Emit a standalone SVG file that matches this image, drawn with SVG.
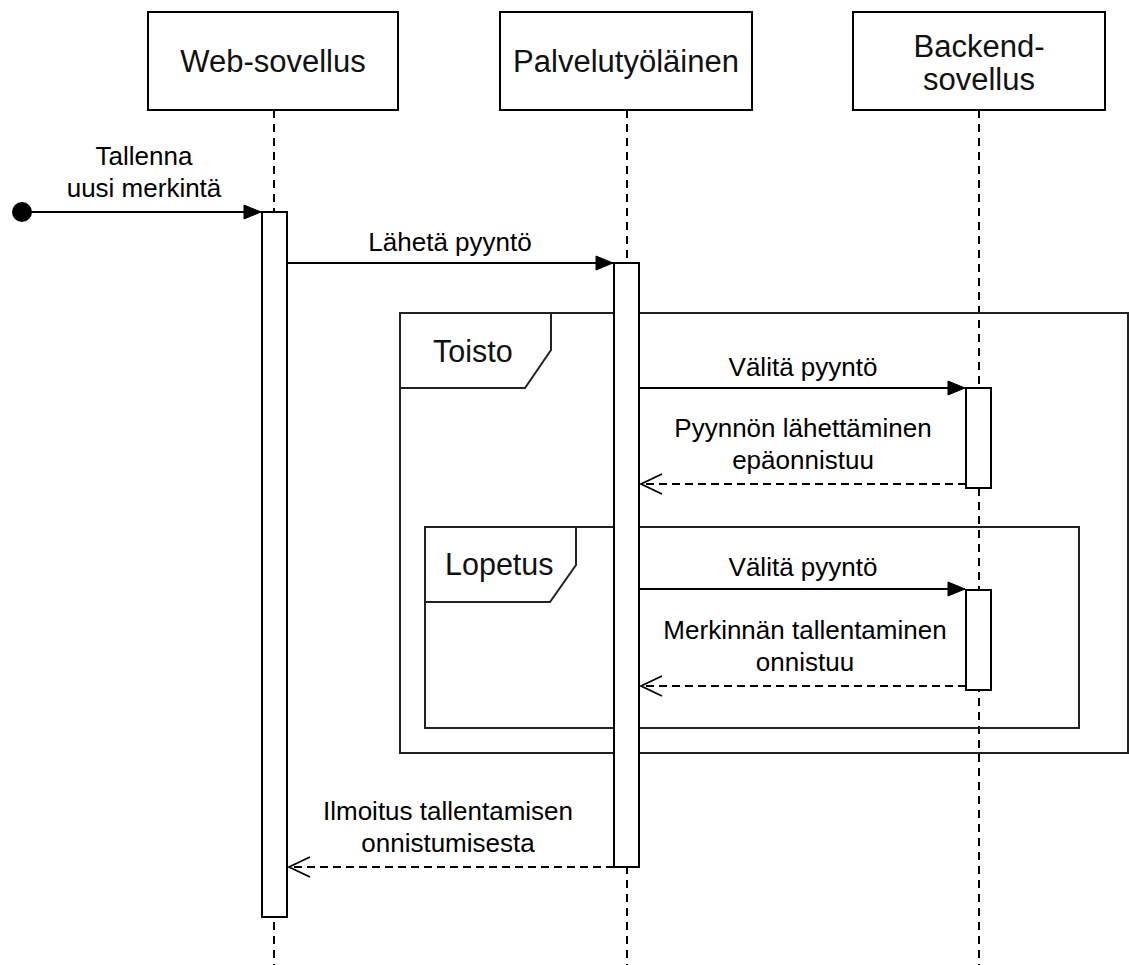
<svg xmlns="http://www.w3.org/2000/svg" width="1129" height="965" viewBox="0 0 1129 965">
<style>
.box{fill:#fff;stroke:#000;stroke-width:2}
.life{stroke:#000;stroke-width:2;stroke-dasharray:8 6;fill:none}
.frame{fill:none;stroke:#222;stroke-width:2}
.tab{fill:#fff;stroke:#222;stroke-width:2}
.msg{stroke:#000;stroke-width:2;fill:none}
.ret{stroke:#000;stroke-width:1.8;stroke-dasharray:8 5;fill:none}
.h{font-family:"Liberation Sans",Arial,sans-serif;font-size:31px;fill:#111;text-anchor:middle}
.l{font-family:"Liberation Sans",Arial,sans-serif;font-size:26px;fill:#000;text-anchor:middle}
.ft{font-family:"Liberation Sans",Arial,sans-serif;font-size:30.5px;fill:#111;text-anchor:start}
</style>
<defs>
<marker id="fill" markerWidth="20" markerHeight="16" refX="18" refY="8" orient="auto" markerUnits="userSpaceOnUse">
<path d="M1,1 L18,8 L1,15 Z" fill="#000" stroke="#000" stroke-width="1"/>
</marker>
<marker id="open" markerWidth="24" markerHeight="24" refX="23" refY="12" orient="auto" markerUnits="userSpaceOnUse">
<path d="M2,2 L23,12 L2,22" fill="none" stroke="#000" stroke-width="1.8"/>
</marker>
</defs>

<g id="lifelines">
<line class="life" x1="274" y1="110" x2="274" y2="965"/>
<line class="life" x1="627" y1="110" x2="627" y2="965"/>
<line class="life" x1="979" y1="110" x2="979" y2="965"/>
</g>

<g id="web-sovellus">
<rect class="box" x="148" y="12" width="250" height="98"/>
<text class="h" x="273" y="72">Web-sovellus</text>
</g>
<g id="palvelutyolainen">
<rect class="box" x="500" y="12" width="252" height="98"/>
<text class="h" x="626" y="72">Palvelutyöläinen</text>
</g>
<g id="backend-sovellus">
<rect class="box" x="853" y="12" width="252" height="98"/>
<text class="h" x="979" y="57">Backend-</text>
<text class="h" x="979" y="90">sovellus</text>
</g>

<g id="frame-toisto">
<rect class="frame" x="400" y="313" width="728" height="440"/>
<path class="tab" d="M400,313 L551,313 L551,350 L525,388 L400,388 Z"/>
<text class="ft" x="433" y="362">Toisto</text>
</g>
<g id="frame-lopetus">
<rect class="frame" x="425" y="527" width="654" height="201"/>
<path class="tab" d="M425,527 L576,527 L576,565 L550,602 L425,602 Z"/>
<text class="ft" x="445" y="575">Lopetus</text>
</g>

<g id="activation-web">
<rect class="box" x="262" y="212" width="25" height="705"/>
</g>
<g id="activation-palvelu">
<rect class="box" x="614" y="263" width="25" height="604"/>
</g>
<g id="activation-backend-1">
<rect class="box" x="966" y="388" width="25" height="100"/>
</g>
<g id="activation-backend-2">
<rect class="box" x="966" y="590" width="25" height="100"/>
</g>

<g id="connectors">
<circle cx="22" cy="212" r="10" fill="#000"/>
<line class="msg" x1="22" y1="212" x2="261" y2="212" marker-end="url(#fill)"/>
<text class="l" x="144" y="165">Tallenna</text>
<text class="l" x="144" y="197">uusi merkintä</text>

<line class="msg" x1="287" y1="263" x2="613" y2="263" marker-end="url(#fill)"/>
<text class="l" x="450" y="251">Lähetä pyyntö</text>

<line class="msg" x1="639" y1="388" x2="965" y2="388" marker-end="url(#fill)"/>
<text class="l" x="803" y="376">Välitä pyyntö</text>

<line class="ret" x1="966" y1="484" x2="641" y2="484" marker-end="url(#open)"/>
<text class="l" x="803" y="437">Pyynnön lähettäminen</text>
<text class="l" x="803" y="469">epäonnistuu</text>

<line class="msg" x1="639" y1="589" x2="965" y2="589" marker-end="url(#fill)"/>
<text class="l" x="803" y="576">Välitä pyyntö</text>

<line class="ret" x1="966" y1="686" x2="641" y2="686" marker-end="url(#open)"/>
<text class="l" x="805" y="639">Merkinnän tallentaminen</text>
<text class="l" x="805" y="671">onnistuu</text>

<line class="ret" x1="614" y1="867" x2="289" y2="867" marker-end="url(#open)"/>
<text class="l" x="448" y="820">Ilmoitus tallentamisen</text>
<text class="l" x="448" y="852">onnistumisesta</text>
</g>
</svg>
